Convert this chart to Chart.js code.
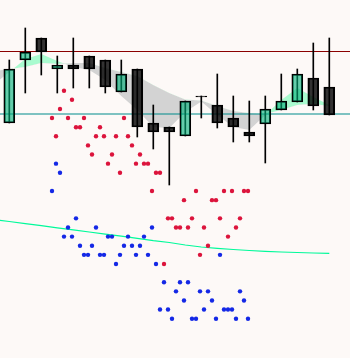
<!DOCTYPE html>
<html><head><meta charset="utf-8">
<script src="https://cdn.jsdelivr.net/npm/chart.js@4.4.0/dist/chart.umd.min.js"></script>
<style>html,body{margin:0;padding:0;background:#fdf9f7;overflow:hidden}canvas{display:block}</style>
</head><body>
<canvas id="c" width="350" height="358"></canvas>
<script>
// ---- data ----
const candleIndex = [0,1,2,3,4,5,6,7,8,9,10,11,12,13,14,15,16,17,18,19,20];
const opens  = [235,298,320,289,293,302,298,266,289,235,231,222,262,253,240,226,234,248,256,280,271];
const closes = [289,306,306,293,289,289,271,284,231,226,226,257,261,235,231,222,249,257,284,252,243];
const highs  = [298,330,320,302,320,302,298,298,289,253,231,257,262,284,262,257,262,284,289,315,320];
const lows   = [235,265,283,265,270,270,265,266,221,209,173,222,240,230,216,216,195,248,256,248,243];

const cloudIndex = [-1,0,1,2,3,4,5,6,7,8,9,10,11,12,13,14,15,16,17,18,19,20];
const spanA = [273,286,299,304,297,291,288,278,262,248,231,230,246,256.5,243,231,228,243,258,270,261,253];
const spanB = [287,289,291,295,294,295,295,290,286,282,273,265,258.5,257.5,252,247,245,244,248,253,254,252];

const trendIndex = [-1,0,1,2,3,4,5,6,7,8,9,10,11,12,13,14,15,16,17,18,19,20];
const trendLine = [138.6,136.5,134.4,132.3,130.2,128.1,126,123.9,121.8,119.7,117.4,115.5,113,111,109.7,108.5,107.5,106.7,106,105.5,105,104.7];

const resistanceLevel = 306.5;
const supportLevel = 244;
const levelSpan = [-1, 22];

const dotColumns = [0,1,2,3,4,5,6,7,8,9,10,11,12,13,14,15,16,17,18,19,20,21,22,23,24,25,26,27,28,29,30,31,32,33,34,35,36,37,38,39,40,41,42,43,44,45,46,47,48,49];
const redDots  = [3,5,2,0,3,1,4,4,3,6,7,5,4,5,8,7,5,9,3,5,6,8,7,8,8,11,9,9,19,14,14,15,15,12,15,14,11,18,15,17,12,12,14,11,16,11,15,14,11,11];
const blueDots = [11,8,9,16,15,16,14,17,18,18,17,15,18,18,16,16,19,18,17,16,17,18,17,16,18,15,19,24,21,24,25,22,21,23,21,25,25,22,24,22,23,25,18,24,24,24,25,22,23,25];

// ---- build ----
const bodies = candleIndex.map((x,i)=>({x, y:[opens[i], closes[i]]}));
const wicks  = candleIndex.map((x,i)=>({x, y:[lows[i], highs[i]]}));
const bodyColors = candleIndex.map((x,i)=> closes[i] > opens[i] ? 'rgba(0,175,120,0.6)' : 'rgba(0,0,0,0.8)');
const pts = (xs, ys) => xs.map((x,i)=>({x, y:ys[i]}));
const flat = (v) => levelSpan.map(x=>({x, y:v}));

new Chart(document.getElementById('c'), {
  type: 'bar',
  data: {
    datasets: [
      { type:'line', label:'spanA', data: pts(cloudIndex, spanA), borderWidth:0, pointRadius:0,
        fill:{target:1, above:'rgba(0,255,127,0.33)', below:'#d3d3d3'}, order:6 },
      { type:'line', label:'spanB', data: pts(cloudIndex, spanB), borderWidth:0, pointRadius:0, fill:false, order:6 },
      { type:'line', label:'resistance', data: flat(resistanceLevel), borderColor:'#8b0000', borderWidth:1.2, pointRadius:0, order:5 },
      { type:'line', label:'support', data: flat(supportLevel), borderColor:'#008b8b', borderWidth:1.2, pointRadius:0, order:5 },
      { type:'line', label:'trend', data: pts(trendIndex, trendLine), borderColor:'#00fa9a', borderWidth:1.2, pointRadius:0, order:4 },
      { label:'wicks', data: wicks, backgroundColor:'#000', barThickness:1, grouped:false, order:3 },
      { label:'bodies', data: bodies, backgroundColor: bodyColors, borderColor:'#000', borderWidth:1.5,
        borderSkipped:false, barThickness:11, grouped:false, order:2 },
      { type:'line', label:'red', data: pts(dotColumns, redDots), showLine:false, pointRadius:2.2, pointBorderWidth:0,
        pointBackgroundColor:'#dc143c', xAxisID:'xd', yAxisID:'yd', order:1 },
      { type:'line', label:'blue', data: pts(dotColumns, blueDots), showLine:false, pointRadius:2.2, pointBorderWidth:0,
        pointBackgroundColor:'rgb(20,40,230)', xAxisID:'xd', yAxisID:'yd', order:0 }
    ]
  },
  options: {
    responsive:false, animation:false, devicePixelRatio:1,
    layout:{padding:0, autoPadding:false},
    plugins:{legend:{display:false}, tooltip:{enabled:false}},
    scales:{
      x:{type:'linear', min:-0.581, max:21.294, offset:false, grid:{offset:false}, display:false},
      y:{type:'linear', min:0, max:358, display:false},
      xd:{type:'linear', min:-13, max:74.5, offset:false, grid:{offset:false}, display:false},
      yd:{type:'linear', min:-9.945, max:29.31, reverse:true, offset:false, display:false}
    }
  }
});
</script>
</body></html>
